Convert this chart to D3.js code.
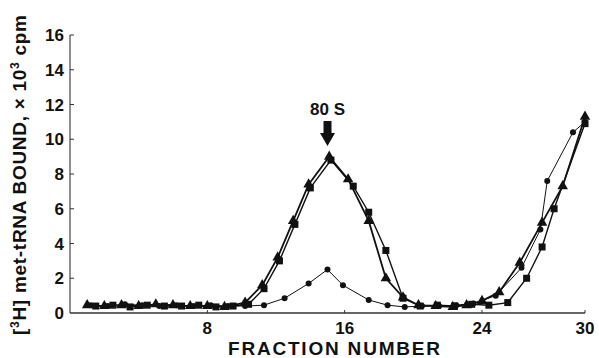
<!DOCTYPE html>
<html>
<head>
<meta charset="utf-8">
<script src="https://cdn.jsdelivr.net/npm/d3@7"></script>
<style>
  html, body { margin: 0; padding: 0; background: #fff; }
  svg { display: block; }
  text { font-family: "Liberation Sans", Arial, Helvetica, sans-serif; fill: #111; }
</style>
</head>
<body>
<svg id="chart" width="599" height="358"></svg>
<script>
// Sucrose gradient profile: [3H]met-tRNA bound per fraction (× 10^3 cpm)

// Triangle series
const triFraction = [1, 2, 3, 4, 5, 6, 7, 8, 9, 10.2, 11.2, 12.1, 13.0, 13.9, 15.1, 16.2, 17.4, 18.4, 19.4, 20.3, 21.3, 22.3, 23.1, 24.0, 25.0, 26.2, 27.5, 28.7, 30];
const triValue    = [0.45, 0.4, 0.45, 0.4, 0.5, 0.45, 0.4, 0.4, 0.35, 0.6, 1.6, 3.2, 5.3, 7.4, 9.0, 7.7, 5.3, 2.0, 0.9, 0.45, 0.4, 0.35, 0.45, 0.7, 1.2, 2.9, 5.2, 7.3, 11.3];

// Square series
const sqFraction = [1.5, 2.5, 3.5, 4.5, 5.5, 6.5, 7.5, 8.5, 9.5, 10.4, 11.3, 12.2, 13.1, 14.0, 15.2, 16.5, 17.4, 18.4, 19.4, 20.4, 21.4, 22.4, 23.4, 24.4, 25.5, 26.6, 27.5, 28.2, 30];
const sqValue    = [0.4, 0.45, 0.35, 0.45, 0.4, 0.4, 0.45, 0.35, 0.4, 0.5, 1.4, 3.0, 5.1, 7.2, 8.8, 7.3, 5.8, 3.6, 0.85, 0.4, 0.45, 0.4, 0.5, 0.45, 0.6, 2.0, 3.8, 6.0, 10.9];

// Circle series
const cirFraction = [1.2, 2.2, 3.2, 4.2, 5.2, 6.2, 7.2, 8.2, 9.2, 10.2, 11.3, 12.5, 13.9, 15.0, 15.9, 17.4, 18.5, 19.5, 20.5, 21.5, 22.5, 23.5, 24.8, 26.3, 27.4, 27.8, 29.3, 30];
const cirValue    = [0.45, 0.4, 0.5, 0.45, 0.4, 0.45, 0.4, 0.45, 0.4, 0.4, 0.45, 0.85, 1.7, 2.5, 1.6, 0.75, 0.45, 0.35, 0.4, 0.4, 0.45, 0.55, 1.0, 2.6, 4.8, 7.6, 10.4, 11.0];

// Axis ticks and labels
const xTicks = [8, 16, 24, 30];
const yTicks = [0, 2, 4, 6, 8, 10, 12, 14, 16];
const peakFraction = 15;
const peakLabel = "80 S";
const xTitle = "FRACTION NUMBER";

const svg = d3.select("#chart");
const ink = "#111";

const x = d3.scaleLinear().domain([0, 30]).range([70, 585]);
const y = d3.scaleLinear().domain([0, 16]).range([313, 35]);

// Axes
svg.append("line").attr("x1", x(0)).attr("x2", x(0)).attr("y1", y(0)).attr("y2", y(16))
  .attr("stroke", "#444").attr("stroke-width", 1.2);
svg.append("line").attr("x1", x(0)).attr("x2", x(30)).attr("y1", y(0)).attr("y2", y(0))
  .attr("stroke", "#333").attr("stroke-width", 1.3);

svg.selectAll(".ytick").data(yTicks.filter(d => d > 0)).enter().append("line")
  .attr("x1", x(0)).attr("x2", x(0) + 4).attr("y1", d => y(d)).attr("y2", d => y(d))
  .attr("stroke", "#333").attr("stroke-width", 1);
svg.selectAll(".xtick").data(xTicks).enter().append("line")
  .attr("x1", d => x(d)).attr("x2", d => x(d)).attr("y1", y(0)).attr("y2", y(0) - 3)
  .attr("stroke", "#333").attr("stroke-width", 1);

svg.selectAll(".ylab").data(yTicks).enter().append("text")
  .attr("x", 64).attr("y", d => y(d) + 6)
  .attr("text-anchor", "end").attr("font-size", 17).attr("font-weight", "bold")
  .text(d => d);
svg.selectAll(".xlab").data(xTicks).enter().append("text")
  .attr("x", d => x(d)).attr("y", 334)
  .attr("text-anchor", "middle").attr("font-size", 17).attr("font-weight", "bold")
  .text(d => d);

// Axis titles
svg.append("text").attr("x", 334).attr("y", 355).attr("text-anchor", "middle")
  .attr("font-size", 19).attr("font-weight", "bold")
  .attr("textLength", 212).attr("lengthAdjust", "spacing")
  .text(xTitle);

const yt = svg.append("text")
  .attr("transform", "translate(26,175) rotate(-90)")
  .attr("text-anchor", "middle").attr("font-size", 19).attr("font-weight", "bold")
  .attr("textLength", 320).attr("lengthAdjust", "spacing");
yt.append("tspan").text("[");
yt.append("tspan").attr("font-size", 12).attr("dy", -7).text("3");
yt.append("tspan").attr("dy", 7).text("H] met-tRNA BOUND, × 10");
yt.append("tspan").attr("font-size", 12).attr("dy", -7).text("3");
yt.append("tspan").attr("dy", 7).text(" cpm");

// Series
const line = d3.line().x(d => x(d[0])).y(d => y(d[1]));
const zipS = (xs, vs) => xs.map((f, i) => [f, vs[i]]);
const cir = zipS(cirFraction, cirValue);
const sq = zipS(sqFraction, sqValue);
const tri = zipS(triFraction, triValue);

svg.append("path").datum(cir).attr("d", line).attr("fill", "none").attr("stroke", ink).attr("stroke-width", 1);
svg.append("path").datum(sq).attr("d", line).attr("fill", "none").attr("stroke", ink).attr("stroke-width", 1.4);
svg.append("path").datum(tri).attr("d", line).attr("fill", "none").attr("stroke", ink).attr("stroke-width", 1.8);

svg.selectAll(".cir").data(cir).enter().append("circle")
  .attr("cx", d => x(d[0])).attr("cy", d => y(d[1])).attr("r", 3).attr("fill", ink);
svg.selectAll(".sq").data(sq).enter().append("rect")
  .attr("x", d => x(d[0]) - 3.5).attr("y", d => y(d[1]) - 3.5)
  .attr("width", 7).attr("height", 7).attr("fill", ink);
const triSym = d3.symbol().type(d3.symbolTriangle).size(48);
svg.selectAll(".tri").data(tri).enter().append("path")
  .attr("d", triSym).attr("transform", d => `translate(${x(d[0])},${y(d[1])})`).attr("fill", ink);

// Peak marker
const ax = x(peakFraction);
svg.append("text").attr("x", ax).attr("y", 115).attr("text-anchor", "middle")
  .attr("font-size", 17).attr("font-weight", "bold").text(peakLabel);
svg.append("path")
  .attr("d", `M${ax - 4},121 L${ax + 4},121 L${ax + 4},133 L${ax + 7.5},133 L${ax},146 L${ax - 7.5},133 L${ax - 4},133 Z`)
  .attr("fill", ink);
</script>
</body>
</html>
